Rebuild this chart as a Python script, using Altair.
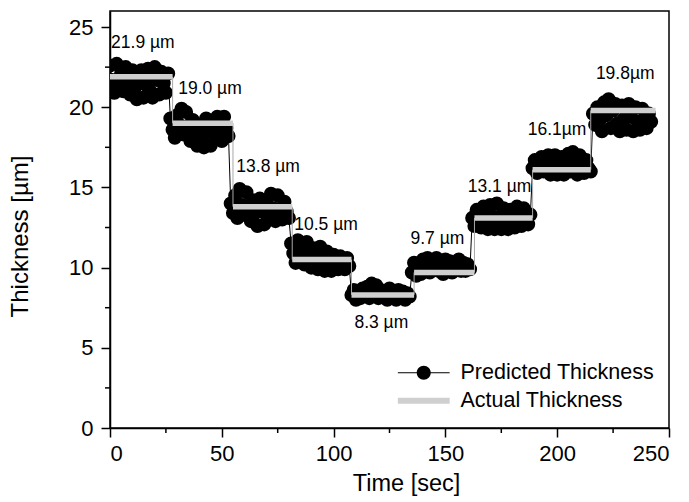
import altair as alt
import pandas as pd

FONT = "Liberation Sans"

# ---- predicted thickness (one reading per second, 27 per step) ----
seg1 = [22.6, 21.7, 20.9, 22.7, 21.3, 22.1, 21.0, 22.5, 21.6, 20.8, 22.3, 21.2, 20.5, 21.9,
        22.3, 20.6, 21.4, 22.4, 21.0, 20.6, 22.5, 21.7, 20.8, 22.2, 21.5, 20.9, 22.1]
seg2 = [19.3, 18.6, 18.1, 19.5, 18.9, 19.9, 18.3, 19.7, 18.8, 17.9, 19.2, 18.4, 17.6, 18.9,
        18.1, 17.5, 19.3, 18.5, 17.6, 18.9, 18.0, 19.4, 18.6, 17.9, 19.4, 18.7, 18.2]
seg3 = [14.0, 13.4, 14.5, 13.1, 14.9, 13.9, 13.3, 14.7, 13.8, 12.9, 14.2, 13.4, 12.6, 14.3,
        13.5, 12.7, 14.0, 13.3, 14.6, 13.7, 12.9, 14.5, 13.6, 13.0, 14.1, 13.5, 13.1]
seg4 = [11.5, 10.9, 10.3, 11.7, 11.0, 11.4, 10.2, 11.6, 10.8, 10.0, 11.2, 10.5, 9.9, 11.3,
        10.6, 9.8, 11.0, 10.3, 9.8, 10.8, 10.2, 9.9, 10.7, 10.3, 9.9, 10.6, 10.1]
seg5 = [8.3, 8.6, 8.0, 8.5, 8.1, 8.7, 8.3, 8.8, 8.1, 9.0, 8.4, 8.9, 8.1, 8.6,
        8.3, 8.5, 8.0, 8.7, 8.2, 8.5, 8.0, 8.6, 8.3, 8.5, 8.0, 8.4, 8.2]
seg6 = [9.7, 10.3, 9.5, 10.1, 9.6, 10.5, 9.9, 10.6, 9.7, 10.4, 9.9, 10.6, 9.8, 10.3,
        9.6, 10.5, 9.9, 10.4, 9.7, 10.2, 9.9, 10.5, 9.8, 10.3, 9.8, 10.2, 9.9]
seg7 = [13.1, 12.6, 13.6, 13.0, 12.5, 13.8, 13.1, 12.4, 13.9, 13.2, 12.4, 14.0, 13.1, 12.4,
        13.7, 13.0, 12.4, 13.6, 12.9, 12.5, 13.8, 13.2, 12.6, 13.7, 13.1, 12.7, 13.3]
seg8 = [16.2, 16.7, 15.9, 16.5, 16.9, 16.0, 16.6, 17.0, 15.8, 16.4, 17.0, 15.8, 16.3, 16.9,
        15.8, 16.5, 17.1, 16.0, 17.2, 16.4, 15.8, 17.0, 16.3, 15.9, 16.7, 16.2, 16.0]
seg9 = [19.6, 18.9, 20.0, 19.2, 18.5, 20.3, 19.5, 20.5, 18.7, 19.8, 20.2, 19.0, 18.5, 20.1,
        19.3, 18.6, 20.2, 19.4, 18.5, 20.0, 19.1, 18.6, 19.9, 19.2, 18.7, 19.6, 19.1]
pred_values = seg1 + seg2 + seg3 + seg4 + seg5 + seg6 + seg7 + seg8 + seg9
pred_time = list(range(len(pred_values)))

# ---- actual thickness steps ----
actual_values = [21.9, 19.0, 13.8, 10.5, 8.3, 9.7, 13.1, 16.1, 19.8]
actual_edges = [0, 28, 55, 81.5, 108, 136, 163, 189, 215, 244]

# ---- annotations ----
label_texts = ["21.9 µm", "19.0 µm", "13.8 µm", "10.5 µm", "8.3 µm",
               "9.7 µm", "13.1 µm", "16.1µm", "19.8µm"]
label_t = [0.5, 30.5, 56.5, 82.4, 109.3, 134.4, 160.0, 186.8, 217.3]
label_v = [24.0, 21.13, 16.27, 12.66, 6.56, 11.8, 15.03, 18.57, 22.06]

# ---- axes ----
x_ticks = [0, 50, 100, 150, 200, 250]
x_minor = [25, 75, 125, 175, 225]
y_ticks = [0, 5, 10, 15, 20, 25]
y_minor = [2.5, 7.5, 12.5, 17.5, 22.5]

legend_names = ["Predicted Thickness", "Actual Thickness"]
legend_colors = ["black", "#cfcfcf"]
pred_path = "M-3.7,-0.08H3.7V0.08H-3.7Z M-1,0A1,1 0 1,1 1,0A1,1 0 1,1 -1,0Z"
act_path = "M-3.7,-0.42H3.7V0.42H-3.7Z"

W, H = 559, 417

df_pred = pd.DataFrame({"t": pred_time, "v": pred_values})
df_act = pd.DataFrame({"t": actual_edges[:-1], "t1": actual_edges[1:], "v": actual_values})
df_conn = pd.DataFrame({"t": actual_edges[1:-1], "v": actual_values[:-1], "v1": actual_values[1:]})
df_lab = pd.DataFrame({"t": label_t, "v": label_v, "text": label_texts})
df_xm = pd.DataFrame({"t": x_minor})
df_ym = pd.DataFrame({"v": y_minor})
df_leg = pd.DataFrame({"series": legend_names})

xs = alt.Scale(domain=[0, 250], nice=False, zero=False)
ys = alt.Scale(domain=[0, 26], nice=False, zero=False)
xaxis = alt.Axis(values=x_ticks, title="Time [sec]", grid=False, format="d",
                 titleX=296, titleFontSize=23.5, titlePadding=7)
yaxis = alt.Axis(values=y_ticks, title="Thickness [µm]", grid=False, format="d",
                 titleY=225, titleFontSize=24, titlePadding=36, labelPadding=8)

X = lambda f: alt.X(f, scale=xs, axis=xaxis)
Y = lambda f: alt.Y(f, scale=ys, axis=yaxis)

line = alt.Chart(df_pred).mark_line(color="black", strokeWidth=1, clip=True).encode(
    x=X("t:Q"), y=Y("v:Q"))
pts = alt.Chart(df_pred).mark_circle(color="black", size=200, opacity=1, clip=True).encode(
    x=X("t:Q"), y=Y("v:Q"))
conn = alt.Chart(df_conn).mark_rule(color="#a8a8a8", strokeWidth=1).encode(
    x=X("t:Q"), y=Y("v:Q"), y2="v1:Q")
bars = alt.Chart(df_act).mark_rule(color="#cfcfcf", strokeWidth=5.5).encode(
    x=X("t:Q"), x2="t1:Q", y=Y("v:Q"))
texts = alt.Chart(df_lab).mark_text(align="left", baseline="middle", fontSize=17.5,
                                    font=FONT, color="black").encode(
    x=X("t:Q"), y=Y("v:Q"), text="text:N")
xminor = alt.Chart(df_xm).mark_rule(color="black", strokeWidth=1.5).encode(
    x=X("t:Q"), y=alt.value(H), y2=alt.value(H + 5))
yminor = alt.Chart(df_ym).mark_rule(color="black", strokeWidth=1.5).encode(
    y=Y("v:Q"), x=alt.value(0), x2=alt.value(-5))

leg_props = dict(title=None, orient="none", legendX=303, legendY=351,
                 labelFontSize=21.5, labelFont=FONT, labelColor="black", labelLimit=0,
                 labelOffset=26, symbolOpacity=1, symbolSize=196,
                 symbolStrokeWidth=0, padding=0, rowPadding=5)
leg = alt.Chart(df_leg).mark_point(filled=True, opacity=0, size=196).encode(
    color=alt.Color("series:N", scale=alt.Scale(domain=legend_names, range=legend_colors),
                    legend=alt.Legend(**leg_props)),
    shape=alt.Shape("series:N", scale=alt.Scale(domain=legend_names, range=[pred_path, act_path]),
                    legend=alt.Legend(**leg_props)),
)

chart = alt.layer(line, pts, conn, bars, texts, xminor, yminor, leg).properties(
    width=W, height=H,
    padding={"left": 110, "top": 11, "right": 20, "bottom": 74},
    autosize=alt.AutoSizeParams(type="none"),
).configure_view(
    stroke="black", strokeWidth=1.5
).configure_axis(
    labelFont=FONT, labelFontSize=22, labelColor="black",
    titleFont=FONT, titleFontWeight="normal", titleColor="black",
    domainColor="black", domainWidth=1.5, tickColor="black", tickWidth=1.5, tickSize=9,
    labelPadding=6,
)

chart.save("out.html", embed_options={"renderer": "svg", "actions": False})
